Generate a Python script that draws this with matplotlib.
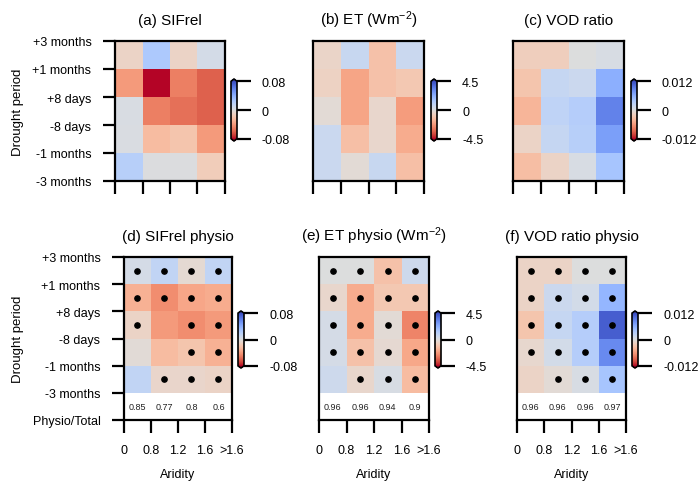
import numpy as np
import matplotlib.pyplot as plt

plt.rcParams['font.family'] = ['Liberation Sans', 'DejaVu Sans']
plt.rcParams['mathtext.fontset'] = 'custom'
plt.rcParams['mathtext.rm'] = 'Liberation Sans'
plt.rcParams['mathtext.it'] = 'Liberation Sans:italic'

periods = ['+3 months', '+1 months', '+8 days', '-8 days', '-1 months', '-3 months']
aridity = ['0', '0.8', '1.2', '1.6', '>1.6']

# rows run from +3 months (top) to -3 months (bottom), columns are aridity bins
sifrel = [[-0.010, 0.025, -0.010, 0.006],
          [-0.040, -0.080, -0.050, -0.060],
          [0.003, -0.050, -0.055, -0.060],
          [0.002, -0.025, -0.020, -0.040],
          [0.020, 0.001, 0.001, -0.015]]
et = [[-0.5, 0.7, -1.2, 0.6],
      [-0.6, -2.0, -1.2, -1.0],
      [-0.2, -2.0, -0.4, -2.2],
      [0.6, -1.3, -0.4, -1.8],
      [0.6, -0.2, 0.7, -1.3]]
vod = [[-0.0020, -0.0020, 0.0000, 0.0005],
       [-0.0030, 0.0020, 0.0015, 0.0060],
       [-0.0042, 0.0025, 0.0032, 0.0090],
       [-0.0015, 0.0020, 0.0030, 0.0072],
       [-0.0035, -0.0015, 0.0005, 0.0042]]

sifrel_physio = [[0.005, 0.015, -0.005, 0.015],
                 [-0.030, -0.045, -0.035, -0.032],
                 [-0.010, -0.040, -0.045, -0.040],
                 [-0.003, -0.025, -0.020, -0.030],
                 [0.015, -0.008, -0.008, -0.010]]
et_physio = [[0.0, 0.0, -1.2, 0.5],
             [-0.4, -1.8, -1.0, -1.0],
             [0.3, -1.8, -0.2, -2.7],
             [0.3, -1.2, -0.3, -1.9],
             [0.5, -0.4, 0.2, -1.4]]
vod_physio = [[-0.0015, -0.0015, 0.0000, 0.0000],
              [-0.0015, 0.0015, 0.0010, 0.0055],
              [-0.0030, 0.0020, 0.0032, 0.0110],
              [-0.0010, 0.0010, 0.0032, 0.0085],
              [-0.0015, -0.0005, 0.0005, 0.0042]]

# significance dots (1 = dot)
sifrel_dots = [[1, 1, 1, 1], [1, 1, 1, 1], [1, 0, 1, 1], [0, 0, 1, 1], [0, 1, 1, 1]]
et_dots = [[1, 1, 1, 1], [1, 1, 1, 1], [1, 1, 1, 1], [1, 1, 1, 1], [0, 1, 1, 1]]
vod_dots = [[1, 1, 1, 1], [1, 1, 1, 1], [1, 1, 1, 1], [1, 1, 1, 1], [0, 1, 1, 1]]

sifrel_ratio = ['0.85', '0.77', '0.8', '0.6']
et_ratio = ['0.96', '0.96', '0.94', '0.9']
vod_ratio = ['0.96', '0.96', '0.96', '0.97']

W, H = 700, 485
fig = plt.figure(figsize=(7, 4.85), dpi=100)


def px(x0, y0, x1, y1):
    return [x0 / W, 1 - y1 / H, (x1 - x0) / W, (y1 - y0) / H]


def panel(box, cbox, data, lim, ticklabels, title, left=False, bottom=False,
          dots=None, ratios=None):
    ax = fig.add_axes(px(*box))
    data = np.array(data)
    nrow = 6 if ratios else 5
    mesh = ax.pcolormesh(np.arange(5), np.arange(6), data, cmap='coolwarm_r',
                         vmin=-lim, vmax=lim)
    if dots:
        for i, row in enumerate(dots):
            for j, d in enumerate(row):
                if d:
                    ax.plot(j + 0.5, i + 0.5, 'o', color='black', ms=3.8)
    if ratios:
        for j, r in enumerate(ratios):
            ax.text(j + 0.5, 5.5, r, ha='center', va='center', fontsize=6.5,
                    color='#222222')
    ax.set_xlim(0, 4)
    ax.set_ylim(nrow, 0)
    for s in ax.spines.values():
        s.set_linewidth(1.6)
    ax.tick_params(length=9, width=1.6, labelsize=9, pad=8)
    ax.set_xticks(range(5))
    if bottom:
        ax.set_xticklabels(aridity)
        ax.set_xlabel('Aridity', fontsize=9, labelpad=9)
    else:
        ax.set_xticklabels([])
    if left:
        ax.set_yticks(range(nrow + 1))
        ax.set_yticklabels(periods + (['Physio/Total'] if ratios else []))
        ax.set_ylabel('Drought period', fontsize=9.5, labelpad=6)
    else:
        ax.set_yticks([])
    ax.set_title(title, fontsize=11, pad=12)

    cax = fig.add_axes(px(*cbox))
    cb = fig.colorbar(mesh, cax=cax, extend='both', extendfrac=0.04,
                      ticks=[lim, 0, -lim])
    cb.ax.set_yticklabels(ticklabels)
    cb.outline.set_linewidth(1.2)
    cb.ax.tick_params(length=10, width=1.6, labelsize=9, pad=8)
    return ax


panel((115, 42, 225, 182), (231, 80, 237, 142), sifrel, 0.08,
      ['0.08', '0', '-0.08'], '(a) SIFrel', left=True)
panel((313, 42, 424, 182), (431, 80, 437, 142), et, 4.5,
      ['4.5', '0', '-4.5'], r'(b) ET (Wm$^{-2}$)')
panel((513, 42, 624, 182), (631, 80, 637, 142), vod, 0.012,
      ['0.012', '0', '-0.012'], '(c) VOD ratio')

panel((124, 258, 232, 421), (238, 312, 244, 369), sifrel_physio, 0.08,
      ['0.08', '0', '-0.08'], '(d) SIFrel physio', left=True, bottom=True,
      dots=sifrel_dots, ratios=sifrel_ratio)
panel((319, 258, 429, 421), (435, 312, 441, 369), et_physio, 4.5,
      ['4.5', '0', '-4.5'], r'(e) ET physio (Wm$^{-2}$)', bottom=True,
      dots=et_dots, ratios=et_ratio)
panel((517, 258, 626, 421), (632, 312, 638, 369), vod_physio, 0.012,
      ['0.012', '0', '-0.012'], '(f) VOD ratio physio', bottom=True,
      dots=vod_dots, ratios=vod_ratio)

fig.savefig('out.png', dpi=100)
